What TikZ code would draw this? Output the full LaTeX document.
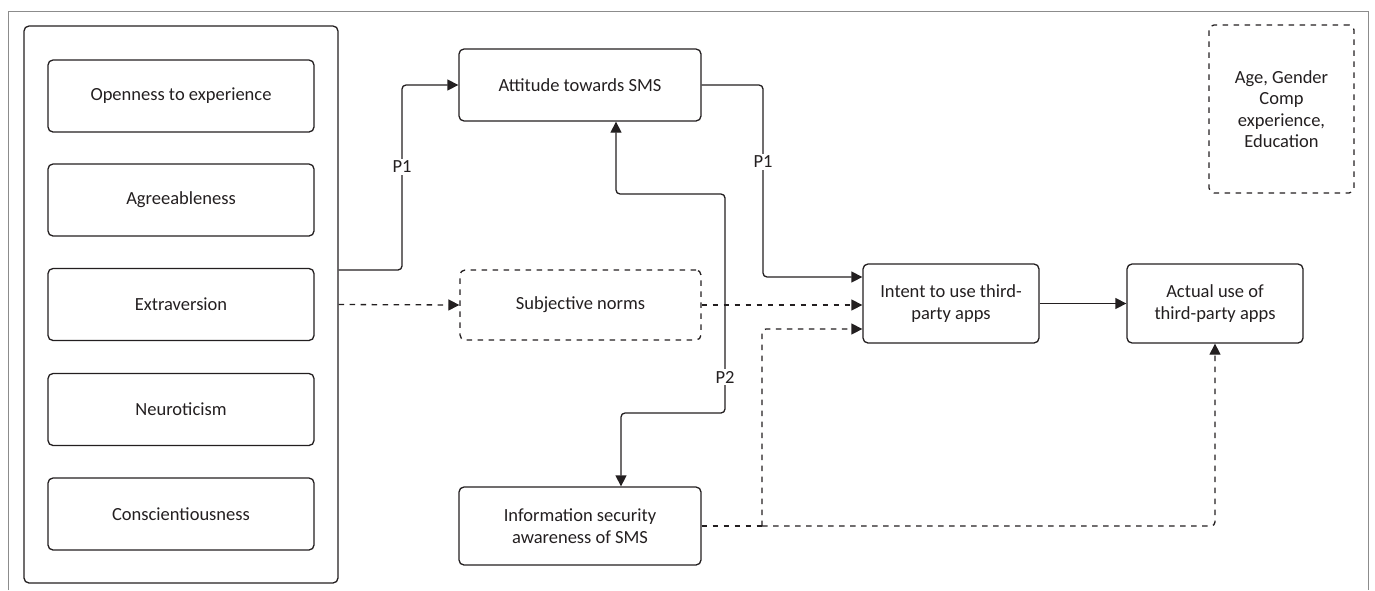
\documentclass[tikz,border=0pt]{standalone}
\usepackage{fontspec}
\setmainfont{Carlito}
\usetikzlibrary{arrows.meta}
\definecolor{ink}{HTML}{231F20}
\definecolor{frame}{HTML}{8C8C8C}
\begin{document}
\begin{tikzpicture}[x=0.5pt,y=-0.5pt,
  font=\fontsize{9.25}{10.75}\selectfont, text=ink,
  bx/.style={draw=ink, line width=0.65pt, rounded corners=2.5pt, align=center, inner sep=0pt},
  dbx/.style={bx, dash pattern=on 2.75pt off 2.75pt},
  inner/.style={bx, minimum width=133pt, minimum height=36pt},
  line/.style={draw=ink, line width=0.65pt, rounded corners=2pt},
  conn/.style={line, -{Triangle[length=5.5pt,width=5.5pt]}},
  dline/.style={line, dash pattern=on 2.75pt off 2.75pt},
  dconn/.style={conn, dash pattern=on 2.75pt off 2.75pt},
  lbl/.style={fill=white, inner sep=1pt, text=ink}]
\useasboundingbox (0,0) rectangle (1375,590);
\draw[frame, line width=0.5pt] (8,590) -- (8,11) -- (1368,11) -- (1368,590);

\node[bx, minimum width=157pt, minimum height=278.5pt] (cont) at (181,304.5) {};
\node[inner] (open) at (181,96) {Openness to experience};
\node[inner] (agree) at (181,200) {Agreeableness};
\node[inner] (extra) at (181,304.5) {Extraversion};
\node[inner] (neuro) at (181,409.5) {Neuroticism};
\node[inner] (consc) at (181,514) {Conscientiousness};

\node[bx, minimum width=121pt, minimum height=36pt] (att) at (580,85) {Attitude towards SMS};
\node[dbx, minimum width=120.5pt, minimum height=35pt] (subj) at (580.5,305) {Subjective norms};
\node[bx, minimum width=121pt, minimum height=39pt] (info) at (580,526) {Information security\\awareness of SMS};
\node[bx, minimum width=88pt, minimum height=39.5pt] (intent) at (951,303.5) {Intent to use third-\\party apps};
\node[bx, minimum width=88pt, minimum height=39.5pt] (actual) at (1215,303.5) {Actual use of\\third-party apps};
\node[dbx, minimum width=72.5pt, minimum height=84pt] (age) at (1281.5,109) {Age, Gender\\Comp\\experience,\\Education};

% solid connectors
\draw[conn] (cont.east |- 0,270) -- (402,270) |- (att.west);
\draw[conn] (att.east) -- (763,85) |- (intent.west |- 0,277);
\draw[conn, {Triangle[length=5.5pt,width=5.5pt]}-{Triangle[length=5.5pt,width=5.5pt]}]
  (info.north -| 621,0) |- (725,413) |- (616,194) -- (att.south -| 616,0);
\draw[conn] (intent.east) -- (actual.west);

% dashed connectors
\draw[dconn] (cont.east) -- (subj.west);
\draw[dconn] (subj.east) -- (intent.west |- subj.east);
\coordinate (j) at (762,526);
\draw[dline] (info.east) -- (j);
\draw[dconn] (j) |- (intent.west |- 0,329);
\draw[dconn] (j) -| (actual.south);

% labels
\node[lbl] (l1) at (402,167) {P1};
\node[lbl] (l2) at (763,162) {P1};
\node[lbl] (l3) at (725,377) {P2};
\end{tikzpicture}
\end{document}
